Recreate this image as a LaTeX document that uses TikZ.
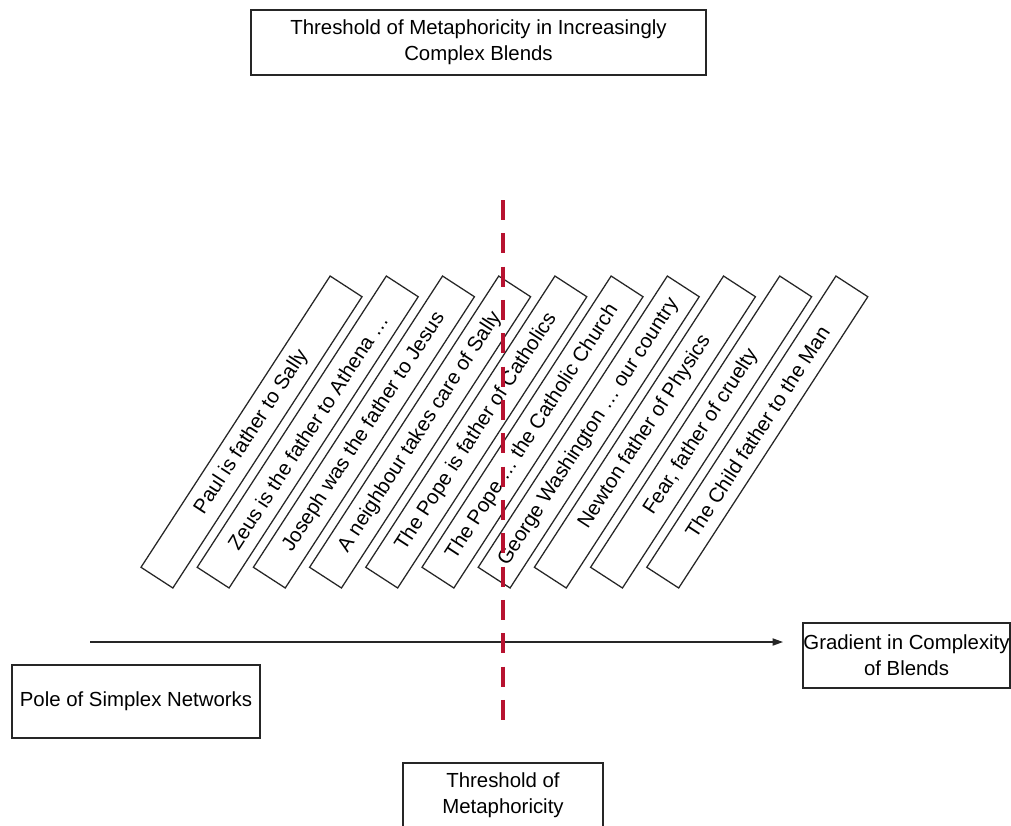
\documentclass[tikz,border=0pt]{standalone}
\usepackage{fontspec}
\setmainfont{Liberation Sans}
\usepackage{xcolor}
\usepackage{tikz}
\usetikzlibrary{arrows.meta,positioning}
\definecolor{threshred}{RGB}{183,18,48}
\tikzset{
    labelbox/.style={draw=black!85, line width=0.9pt, fill=white, align=center, inner sep=0pt},
    blendbox/.style={labelbox, rotate=57, minimum width=8.68cm, minimum height=0.95cm},
}
\begin{document}
\begin{tikzpicture}[x=0.025cm, y=-0.025cm, font=\fontsize{14.5}{18.4}\selectfont]
            \useasboundingbox (0,0) rectangle (1011,825);
            \clip (0,0) rectangle (1011,825);
            % heading and the three side labels
            \node[labelbox, minimum width=11.375cm, minimum height=1.625cm] (heading) at (478.5,42.5)
                {Threshold of Metaphoricity in Increasingly\\Complex Blends};
            \node[labelbox, minimum width=6.2cm, minimum height=1.825cm] (pole) at (136,701.5)
                {Pole of Simplex Networks};
            \node[labelbox, minimum width=5.175cm, minimum height=1.625cm] (grad) at (906.5,655.5)
                {Gradient in Complexity\\of Blends};
            \node[labelbox, minimum width=5cm, minimum height=1.6cm] (thresh) at (503,795)
                {Threshold of\\Metaphoricity};
            % the slanted blends
            \foreach \i/\txt in {0/Paul is father to Sally,1/Zeus is the father to Athena …,
                    2/Joseph was the father to Jesus,3/A neighbour takes care of Sally,
                    4/The Pope is father of Catholics,5/The Pope … the Catholic Church,
                    6/George Washington … our country,7/Newton father of Physics,
                    8/{Fear, father of cruelty},9/The Child father to the Man} {
                    \node[blendbox] (blend\i) at (251.5+56.2*\i,432) {\txt};
                }
            % gradient axis
            \coordinate (axstart) at (90,642);
            \coordinate (axend) at (783,642);
            \draw[black!85, line width=0.9pt, -{Triangle[length=0.26cm,width=0.18cm]}] (axstart) -- (axend);
            % threshold line
            \coordinate (thtop) at (503,200);
            \coordinate (thbot) at (503,720);
            \draw[threshred, line width=2.3pt, dash pattern=on 0.5cm off 0.333cm] (thtop) -- (thbot);
        \end{tikzpicture}
\end{document}
